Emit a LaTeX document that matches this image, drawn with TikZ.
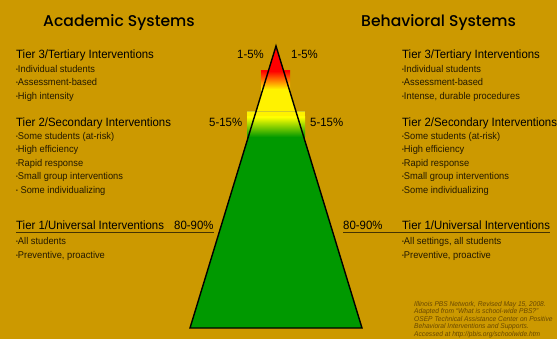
\documentclass[tikz,border=0pt]{standalone}
\usepackage{fontspec}
\usepackage{graphicx}
\setmainfont[FakeStretch=0.95]{Liberation Sans}
\newfontfamily\titlefont{Poppins Medium}
\definecolor{gold}{RGB}{204,153,0}
\definecolor{pgreen}{RGB}{0,153,0}
\definecolor{ink}{RGB}{35,25,0}
\definecolor{citeink}{RGB}{105,72,0}
\newcommand{\bul}{\raisebox{0.25ex}{\scalebox{0.55}{\textbullet}}}

\begin{document}
\begin{tikzpicture}[x=1pt,y=-1pt]
        \tikzstyle{title}=[anchor=base west,inner sep=0pt,font=\titlefont\fontsize{15.6}{15.6}\selectfont]
        \tikzstyle{head}=[anchor=base west,inner sep=0pt,font=\fontsize{12}{12}\selectfont]
        \tikzstyle{item}=[anchor=base west,inner sep=0pt,text=ink,font=\fontsize{9.8}{9.8}\selectfont]
        \tikzstyle{cite}=[anchor=base west,inner sep=0pt,text=citeink,font=\itshape\fontsize{7}{7}\selectfont]
        \tikzstyle{rule}=[draw=ink!80!gold,line width=0.6pt]

        \useasboundingbox (0,0) rectangle (557,339);
        \fill[gold] (0,0) rectangle (557,339);

        % the pyramid
        \coordinate (apex) at (276,46);
        \coordinate (bl) at (190,328);
        \coordinate (br) at (362,328);

        \fill[pgreen] (apex) -- (bl) -- (br) -- cycle;
        \shade[top color=red, bottom color=yellow] (261,71) rectangle (290,90);
        \fill[yellow] (261,90) rectangle (290,111);
        \fill[yellow] (247,111) rectangle (305,117);
        \shade[top color=yellow, bottom color=pgreen] (247,117) rectangle (305,137);
        \fill[pgreen] (247,137) rectangle (305,140);
        \begin{scope}
            \clip (apex) -- (bl) -- (br) -- cycle;
            \fill[red] (240,40) rectangle (320,71);
            \shade[top color=red, bottom color=yellow] (240,71) rectangle (320,90);
            \fill[yellow] (240,90) rectangle (320,117);
            \shade[top color=yellow, bottom color=pgreen] (240,117) rectangle (320,137);
        \end{scope}
        \draw[yellow!80!black, line width=0.5pt] (247,111) -- (305,111);
        \draw[line width=1.4pt] (apex) -- (bl) -- (br) -- cycle;

        % titles
        \node (acad)[title] at (43,26.7) {Academic Systems};
        \node (behav)[title] at (361,26.7) {Behavioral Systems};

        % academic side
        \node (at3)[head] at (16,58.3) {Tier 3/Tertiary Interventions};
        \foreach \t [count=\i] in {Individual students, Assessment-based, High intensity}
            \node (at3\i)[item] at (16,59.4+13.3*\i) {\bul\t};
        \node (at2)[head] at (16,126.7) {Tier 2/Secondary Interventions};
        \foreach \t [count=\i] in {Some students (at-risk), High efficiency, Rapid response, Small group interventions, {\ Some individualizing}}
            \node (at2\i)[item] at (16,126+13.5*\i) {\bul\t};
        \node (at1)[head] at (16,230) {Tier 1/Universal Interventions};
        \foreach \t [count=\i] in {All students, {Preventive, proactive}}
            \node (at1\i)[item] at (16,230.3+14*\i) {\bul\t};

        % behavioral side
        \node (bt3)[head] at (402,58.3) {Tier 3/Tertiary Interventions};
        \foreach \t [count=\i] in {Individual students, Assessment-based, {Intense, durable procedures}}
            \node (bt3\i)[item] at (402,59.4+13.3*\i) {\bul\t};
        \node (bt2)[head] at (402,126.7) {Tier 2/Secondary Interventions};
        \foreach \t [count=\i] in {Some students (at-risk), High efficiency, Rapid response, Small group interventions, Some individualizing}
            \node (bt2\i)[item] at (402,126+13.5*\i) {\bul\t};
        \node (bt1)[head] at (402,230) {Tier 1/Universal Interventions};
        \foreach \t [count=\i] in {{All settings, all students}, {Preventive, proactive}}
            \node (bt1\i)[item] at (402,230.3+14*\i) {\bul\t};

        % percentages
        \node (p3l)[head] at (237,58.3) {1-5\%};
        \node (p3r)[head] at (291,58.3) {1-5\%};
        \node (p2l)[head] at (209,126.7) {5-15\%};
        \node (p2r)[head] at (310,126.7) {5-15\%};
        \node (p1l)[head] at (174,230) {80-90\%};
        \node (p1r)[head] at (343,230) {80-90\%};

        \draw[rule] ([yshift=-2.6pt]at1.base west) -- ([yshift=-2.6pt]p1l.base east);
        \draw[rule] ([yshift=-2.6pt]p1r.base west) -- ([yshift=-2.6pt]bt1.base east);

        % source
        \node (src1)[cite] at (414,306) {Illinois PBS Network, Revised May 15, 2008.};
        \node (src2)[cite] at (414,313.5) {Adapted from ``What is school-wide PBS?''};
        \node (src3)[cite] at (414,321) {OSEP Technical Assistance Center on Positive};
        \node (src4)[cite] at (414,328.5) {Behavioral Interventions and Supports.};
        \node (src5)[cite] at (414,336) {Accessed at http://pbis.org/schoolwide.htm};
    \end{tikzpicture}
\end{document}
